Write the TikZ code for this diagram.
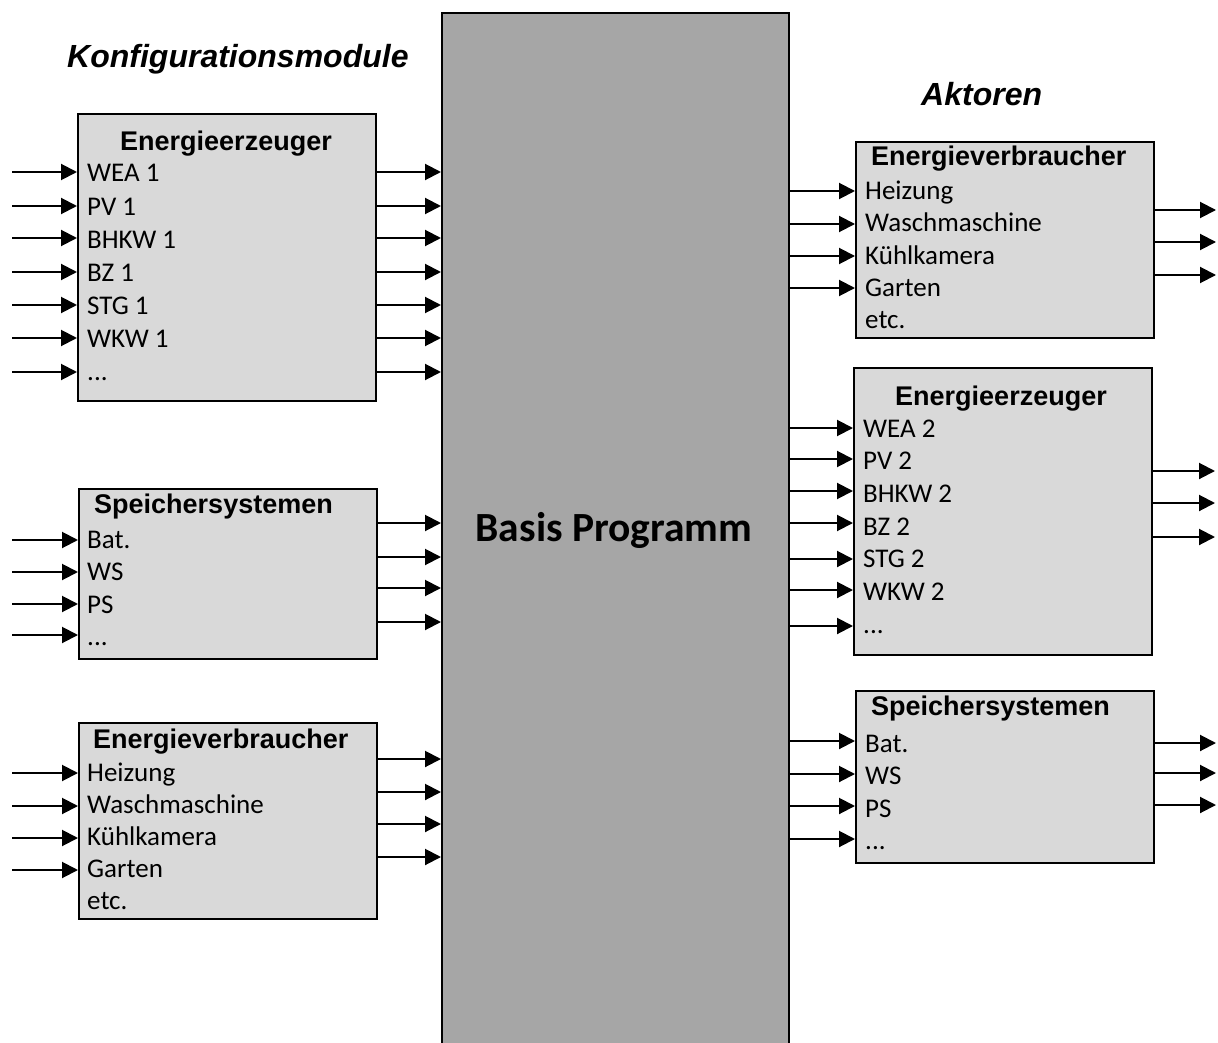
\documentclass[tikz,border=0pt]{standalone}
\usepackage{fontspec}
\newfontfamily\calfont{Carlito}
\newfontfamily\arialfont{Liberation Sans}
\usetikzlibrary{arrows.meta}
\definecolor{boxgray}{HTML}{D9D9D9}
\definecolor{maingray}{HTML}{A6A6A6}
\newcommand\moredots{...}
\begin{document}
\begin{tikzpicture}[x=1pt,y=-1pt,
  module/.style={draw, line width=2pt, fill=boxgray, anchor=north west, inner sep=0pt},
  item/.style={anchor=base west, inner sep=0pt, font=\calfont\fontsize{27}{30}\selectfont},
  head/.style={anchor=base west, inner sep=0pt, font=\arialfont\bfseries\fontsize{27}{30}\selectfont},
  group/.style={anchor=base west, inner sep=0pt, font=\arialfont\bfseries\itshape\fontsize{32}{34}\selectfont},
  arr/.style={line width=2pt, -{Triangle[length=16pt 0 0,width=16pt 0 0]}}
]
\useasboundingbox (0,0) rectangle (1218,1043);

% main block
\node[draw, line width=2pt, fill=maingray, anchor=north west, inner sep=0pt,
      minimum width=347, minimum height=1060] (main) at (441,12) {};
\node[anchor=base, inner sep=0pt, font=\calfont\bfseries\fontsize{41.5}{44}\selectfont] (bp) at (614,541) {Basis Programm};

% group labels
\node[group] (konf) at (67,68) {Konfigurationsmodule};
\node[group] (akt) at (921,106) {Aktoren};

% ---------- left modules ----------
\node[module, minimum width=298, minimum height=287] (L1) at (77,113) {};
\node[head] (L1h) at (120,151) {Energieerzeuger};
\foreach \t [count=\i from 0] in {WEA 1,PV 1,BHKW 1,BZ 1,STG 1,WKW 1,\moredots}
  \node[item] (L1i\i) at (87,182+33*\i) {\t};
\foreach \y in {172,206,238,272,305,338,372} {
  \coordinate (s) at (12,\y);
  \draw[arr] (s) -- (L1.west |- s);
  \draw[arr] (L1.east |- s) -- (main.west |- s);
}

\node[module, minimum width=298, minimum height=170] (L2) at (78,488) {};
\node[head] (L2h) at (94,513) {Speichersystemen};
\foreach \t [count=\i from 0] in {Bat.,WS,PS,\moredots}
  \node[item] (L2i\i) at (87,548+32.5*\i) {\t};
\foreach \y in {540,572,604,635} {
  \coordinate (s) at (12,\y);
  \draw[arr] (s) -- (L2.west |- s);
}
\foreach \y in {523,557,588,622} {
  \coordinate (s) at (0,\y);
  \draw[arr] (L2.east |- s) -- (main.west |- s);
}

\node[module, minimum width=298, minimum height=196] (L3) at (78,722) {};
\node[head] (L3h) at (93,748) {Energieverbraucher};
\foreach \t [count=\i from 0] in {Heizung,Waschmaschine,K\"uhlkamera,Garten,etc.}
  \node[item] (L3i\i) at (87,781+32*\i) {\t};
\foreach \y in {773,806,838,870} {
  \coordinate (s) at (12,\y);
  \draw[arr] (s) -- (L3.west |- s);
}
\foreach \y in {759,792,824,857} {
  \coordinate (s) at (0,\y);
  \draw[arr] (L3.east |- s) -- (main.west |- s);
}

% ---------- right modules ----------
\node[module, minimum width=298, minimum height=196] (R1) at (855,141) {};
\node[head] (R1h) at (871,166) {Energieverbraucher};
\foreach \t [count=\i from 0] in {Heizung,Waschmaschine,K\"uhlkamera,Garten,etc.}
  \node[item] (R1i\i) at (865,200+32*\i) {\t};
\foreach \y in {191,224,256,288} {
  \coordinate (s) at (0,\y);
  \draw[arr] (main.east |- s) -- (R1.west |- s);
}
\foreach \y in {210,242,275} {
  \coordinate (e) at (1216,\y);
  \draw[arr] (R1.east |- e) -- (e);
}

\node[module, minimum width=298, minimum height=287] (R2) at (853,367) {};
\node[head] (R2h) at (895,405) {Energieerzeuger};
\foreach \t [count=\i from 0] in {WEA 2,PV 2,BHKW 2,BZ 2,STG 2,WKW 2,\moredots}
  \node[item] (R2i\i) at (863,437+32.7*\i) {\t};
\foreach \y in {428,459,491,523,559,590,626} {
  \coordinate (s) at (0,\y);
  \draw[arr] (main.east |- s) -- (R2.west |- s);
}
\foreach \y in {471,503,537} {
  \coordinate (e) at (1215,\y);
  \draw[arr] (R2.east |- e) -- (e);
}

\node[module, minimum width=298, minimum height=172] (R3) at (855,690) {};
\node[head] (R3h) at (871,715) {Speichersystemen};
\foreach \t [count=\i from 0] in {Bat.,WS,PS,\moredots}
  \node[item] (R3i\i) at (865,752+32.5*\i) {\t};
\foreach \y in {741,774,806,839} {
  \coordinate (s) at (0,\y);
  \draw[arr] (main.east |- s) -- (R3.west |- s);
}
\foreach \y in {743,773,805} {
  \coordinate (e) at (1216,\y);
  \draw[arr] (R3.east |- e) -- (e);
}
\end{tikzpicture}
\end{document}
